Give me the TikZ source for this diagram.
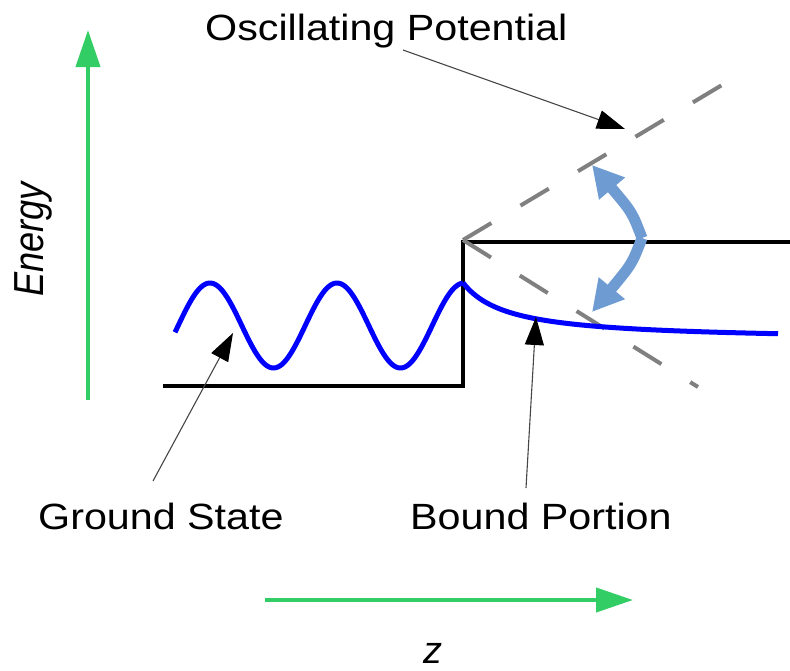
\documentclass[tikz,border=0pt]{standalone}
\usepackage{fontspec}
\setmainfont{Liberation Sans}
\newfontfamily\labfont[FakeStretch=1.13]{Liberation Sans}
\newfontfamily\enfont[FakeStretch=0.86]{Liberation Sans}
\usetikzlibrary{arrows.meta}
\definecolor{axisgreen}{RGB}{50,205,100}
\definecolor{wave}{RGB}{0,0,255}
\definecolor{swing}{RGB}{110,155,210}
\definecolor{potgray}{RGB}{128,128,128}
\definecolor{ptr}{RGB}{70,70,70}
\begin{document}
\begin{tikzpicture}[x=1pt,y=-1pt,
  axisarrow/.style={draw=axisgreen, line width=4pt, -{Triangle[length=37pt,width=24pt]}},
  lab/.style={inner sep=0pt, font=\labfont\fontsize{36.5}{40}\selectfont},
  pointer/.style={draw=ptr, line width=1.1pt, -{Triangle[length=28pt,width=19pt,color=black,fill=black]}},
  stepline/.style={draw=black, line width=4pt, line join=miter},
  potline/.style={draw=potgray, line width=4pt, dash pattern=on 33pt off 34pt},
  wavecurve/.style={draw=wave, line width=5pt},
  swingarrow/.style={draw=swing, line width=11pt, -{Triangle[length=31pt,width=32pt]}}
]
\useasboundingbox (0,0) rectangle (790,670);

% axes
\coordinate (eBot) at (88,400);
\coordinate (eTop) at (88,30);
\draw[axisarrow] (eBot) -- (eTop);
\coordinate (zL) at (265,600);
\coordinate (zR) at (633,600);
\draw[axisarrow] (zL) -- (zR);

% step potential
\coordinate (s1) at (163,386);
\coordinate (s2) at (463,386);
\coordinate (s3) at (463,242);
\coordinate (s4) at (790,242);
\draw[stepline] (s1) -- (s2) -- (s3) -- (s4);

% oscillating potential (dashed)
\coordinate (vtx) at (463,240);
\coordinate (pUp) at (722,85);
\coordinate (pDn) at (698,387);
\draw[potline] (vtx) -- (pUp);
\draw[potline] (vtx) -- (pDn);

% wave function
\draw[wavecurve] plot[domain=175:463, samples=160, smooth] (\x, {325.5-42.5*cos((\x-210)/127*360)});
\draw[wavecurve] plot[domain=463:778, samples=120, smooth] (\x, {341-2622/(\x-418)});

% swinging arrows
\coordinate (swMid) at (642,238);
\coordinate (swUp) at (592,165);
\coordinate (swDn) at (592,312);
\draw[swingarrow] (swMid) .. controls (632,212) .. (swUp);
\draw[swingarrow] (swMid) .. controls (632,264) .. (swDn);

% labels
\node[lab, anchor=base west] (osc) at (205,40) {Oscillating Potential};
\node[lab, anchor=base west] (gs) at (38,529) {Ground State};
\node[lab, anchor=base west] (bp) at (410,529) {Bound Portion};
\node[inner sep=0pt, anchor=base, rotate=90, font=\enfont\itshape\fontsize{42}{46}\selectfont] (energy) at (43,239.5) {Energy};
\node[inner sep=0pt, anchor=base, font=\itshape\fontsize{38}{40}\selectfont] (zlab) at (433,663) {z};

% pointers
\coordinate (oscTail) at (403,50);
\coordinate (oscTip) at (625,129);
\draw[pointer] (oscTail) -- (oscTip);
\coordinate (gsTail) at (153,481);
\coordinate (gsTip) at (233,333);
\draw[pointer] (gsTail) -- (gsTip);
\coordinate (bpTail) at (526,488);
\coordinate (bpTip) at (536,317);
\draw[pointer] (bpTail) -- (bpTip);
\end{tikzpicture}
\end{document}
